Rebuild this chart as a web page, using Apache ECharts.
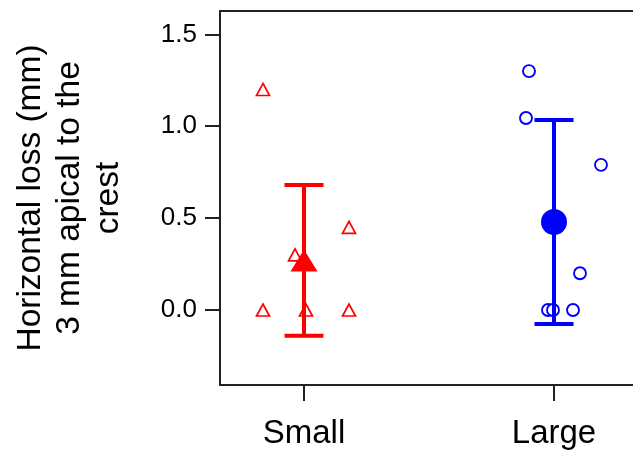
<!DOCTYPE html>
<html>
<head>
<meta charset="utf-8">
<script src="https://cdn.jsdelivr.net/npm/echarts@6/dist/echarts.min.js"></script>
<style>html,body{margin:0;padding:0;background:#fff;}#chart{width:633px;height:453px;}</style>
</head>
<body>
<div id="chart"></div>
<script>
// Categories and positions on the x scale
var categories = ['Small', 'Large'];
var categoryX = [1, 2];
// Individual observations (x = category position + jitter, y = value)
var smallX = [0.836, 0.836, 0.964, 1.008, 1.18, 1.18];
var smallY = [1.2, 0.0, 0.30, 0.0, 0.45, 0.0];
var largeX = [1.90, 1.888, 2.188, 2.104, 1.976, 1.996, 2.076];
var largeY = [1.30, 1.045, 0.79, 0.20, 0.0, 0.0, 0.0];
// Group means and error half-widths
var means = [0.27, 0.479];
var errors = [0.41, 0.555];
// Y tick values
var yTicks = [0, 0.5, 1.0, 1.5];

var colors = ['#ff0000', '#0000ff'];
var axisColor = '#222';
var font = 'Liberation Sans, Arial, sans-serif';

function pairs(xs, ys) { return xs.map(function (x, i) { return [x, ys[i]]; }); }

var errData = categoryX.map(function (x, i) { return [x, means[i] - errors[i], means[i] + errors[i], i]; });

var chart = echarts.init(document.getElementById('chart'), null, { renderer: 'canvas' });
chart.setOption({
  animation: false,
  backgroundColor: '#fff',
  grid: { left: 220, right: 0, top: 11, bottom: 68, show: false },
  xAxis: [{
    type: 'value', min: 0.664, max: 2.316,
    splitLine: { show: false },
    axisLine: { show: true, onZero: false, lineStyle: { color: axisColor, width: 2 } },
    axisTick: { show: true, length: 16, customValues: categoryX, lineStyle: { color: axisColor, width: 2 } },
    axisLabel: {
      customValues: categoryX, margin: 32, fontSize: 33, color: '#000', fontFamily: font,
      formatter: function (v) { var i = categoryX.indexOf(v); return i >= 0 ? categories[i] : ''; }
    }
  }, {
    type: 'value', position: 'top', min: 0.664, max: 2.316,
    splitLine: { show: false },
    axisLine: { show: true, onZero: false, lineStyle: { color: axisColor, width: 2 } },
    axisTick: { show: false }, axisLabel: { show: false }
  }],
  yAxis: {
    type: 'value', min: -0.408, max: 1.627,
    splitLine: { show: false },
    axisLine: { show: true, onZero: false, lineStyle: { color: axisColor, width: 2 } },
    axisTick: { show: true, length: 15, customValues: yTicks, lineStyle: { color: axisColor, width: 2 } },
    axisLabel: {
      customValues: yTicks, margin: 23, fontSize: 26, color: '#000', fontFamily: font,
      formatter: function (v) { return v.toFixed(1); }
    },
    name: 'Horizontal loss (mm)\n3 mm apical to the\ncrest',
    nameLocation: 'middle', nameRotate: 90, nameGap: 92,
    nameTextStyle: { fontSize: 33.5, lineHeight: 39, color: '#000', fontFamily: font, align: 'center' }
  },
  series: [
    {
      type: 'scatter', data: pairs(smallX, smallY), symbol: 'triangle', symbolSize: [13, 12], z: 2,
      itemStyle: { color: '#fff', borderColor: colors[0], borderWidth: 1.7, opacity: 1 }
    },
    {
      type: 'scatter', data: pairs(largeX, largeY), symbol: 'circle', symbolSize: 12, z: 2,
      itemStyle: { color: '#fff', borderColor: colors[1], borderWidth: 1.9, opacity: 1 }
    },
    {
      type: 'custom', z: 3,
      data: errData,
      renderItem: function (params, api) {
        var x = api.value(0), lo = api.value(1), hi = api.value(2), idx = api.value(3);
        var pLo = api.coord([x, lo]), pHi = api.coord([x, hi]);
        var half = 19.5;
        var st = { stroke: colors[idx], lineWidth: 4 };
        return {
          type: 'group', children: [
            { type: 'line', shape: { x1: pLo[0], y1: pLo[1], x2: pHi[0], y2: pHi[1] }, style: st },
            { type: 'line', shape: { x1: pLo[0] - half, y1: pLo[1], x2: pLo[0] + half, y2: pLo[1] }, style: st },
            { type: 'line', shape: { x1: pHi[0] - half, y1: pHi[1], x2: pHi[0] + half, y2: pHi[1] }, style: st }
          ]
        };
      }
    },
    {
      type: 'scatter', data: [[categoryX[0], means[0]]], symbol: 'triangle', symbolSize: [27, 22], z: 4,
      itemStyle: { color: colors[0], opacity: 1 }
    },
    {
      type: 'scatter', data: [[categoryX[1], means[1]]], symbol: 'circle', symbolSize: 26, z: 4,
      itemStyle: { color: colors[1], opacity: 1 }
    }
  ]
});
</script>
</body>
</html>
